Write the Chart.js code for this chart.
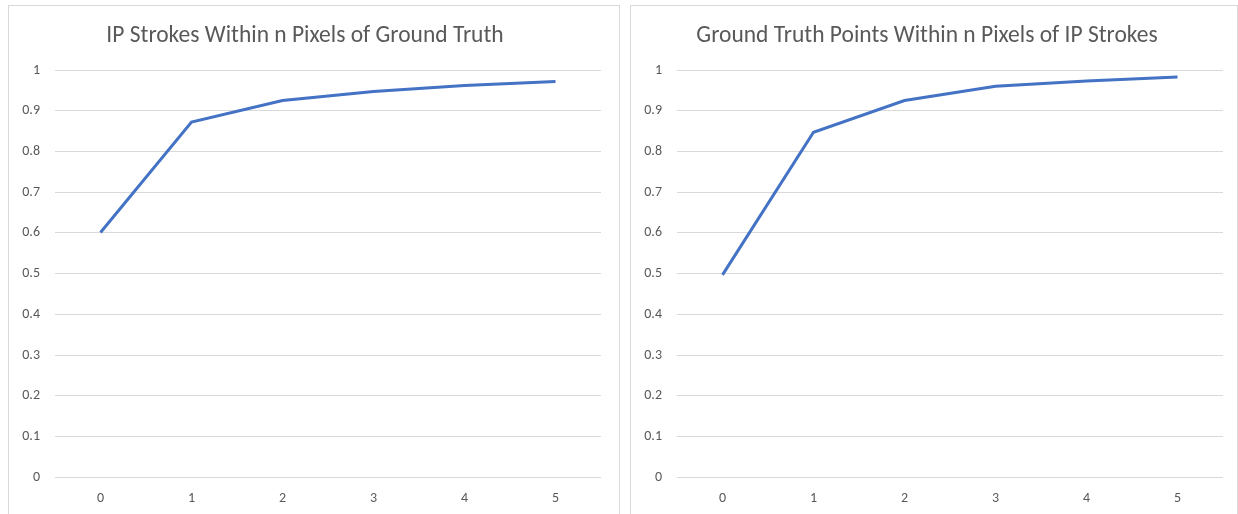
<!DOCTYPE html>
<html>
<head>
<meta charset="utf-8">
<script src="https://cdn.jsdelivr.net/npm/chart.js@4/dist/chart.umd.min.js"></script>
<style>
  html, body { margin: 0; padding: 0; background: #fff; width: 1238px; height: 514px; overflow: hidden; }
  .panel { position: absolute; top: 5px; height: 530px; border: 1px solid #d9d9d9; background: #fff; }
  #leftPanel { left: 8px; width: 610px; }
  #rightPanel { left: 630px; width: 606px; }
  .panel canvas { position: absolute; left: 0; top: 0; }
</style>
</head>
<body>
<div class="panel" id="leftPanel"><canvas id="leftChart" width="610" height="523"></canvas></div>
<div class="panel" id="rightPanel"><canvas id="rightChart" width="606" height="523"></canvas></div>
<script>
// Chart data
const pixelDistances = ['0', '1', '2', '3', '4', '5'];
const ipStrokesValues = [0.601, 0.872, 0.925, 0.947, 0.962, 0.972];
const groundTruthValues = [0.497, 0.847, 0.925, 0.960, 0.973, 0.983];
const yTicks = [0, 0.1, 0.2, 0.3, 0.4, 0.5, 0.6, 0.7, 0.8, 0.9, 1];

const FONT = 'Calibri, Carlito, Lato, sans-serif';
const TEXT_COLOR = '#595959';
const GRID_COLOR = '#d9d9d9';
const LINE_COLOR = '#4472c4';

/**
 * Build one line chart in the Excel look
 */
function makeChart(canvasId, title, values, rightPad) {
    const ctx = document.getElementById(canvasId);
    return new Chart(ctx, {
        type: 'line',
        data: {
            labels: pixelDistances,
            datasets: [{
                data: values,
                borderColor: LINE_COLOR,
                borderWidth: 3,
                pointRadius: 0,
                tension: 0,
                fill: false
            }]
        },
        options: {
            responsive: false,
            animation: false,
            layout: {
                padding: { left: 0, right: rightPad, top: 0, bottom: 9 }
            },
            plugins: {
                legend: { display: false },
                tooltip: { enabled: false },
                title: {
                    display: true,
                    text: title,
                    color: TEXT_COLOR,
                    font: { family: FONT, size: 23.5, weight: 'normal' },
                    padding: { top: 16, bottom: 19.8 }
                }
            },
            scales: {
                x: {
                    offset: true,
                    grid: { display: false, drawTicks: false },
                    border: { display: false },
                    ticks: {
                        color: TEXT_COLOR,
                        font: { family: FONT, size: 14 },
                        padding: 13,
                        maxRotation: 0
                    }
                },
                y: {
                    min: 0,
                    max: 1,
                    afterFit: function(scale) { scale.width = 46; },
                    afterBuildTicks: function(scale) {
                        scale.ticks = yTicks.map(function(v) { return { value: v }; });
                    },
                    grid: { color: GRID_COLOR, lineWidth: 1, drawTicks: false },
                    border: { display: false },
                    ticks: {
                        color: TEXT_COLOR,
                        font: { family: FONT, size: 14 },
                        padding: 15,
                        callback: function(v) { return String(Math.round(v * 10) / 10); }
                    }
                }
            }
        }
    });
}

makeChart('leftChart', 'IP Strokes Within n Pixels of Ground Truth', ipStrokesValues, 18);
makeChart('rightChart', 'Ground Truth Points Within n Pixels of IP Strokes', groundTruthValues, 14);
</script>
</body>
</html>
